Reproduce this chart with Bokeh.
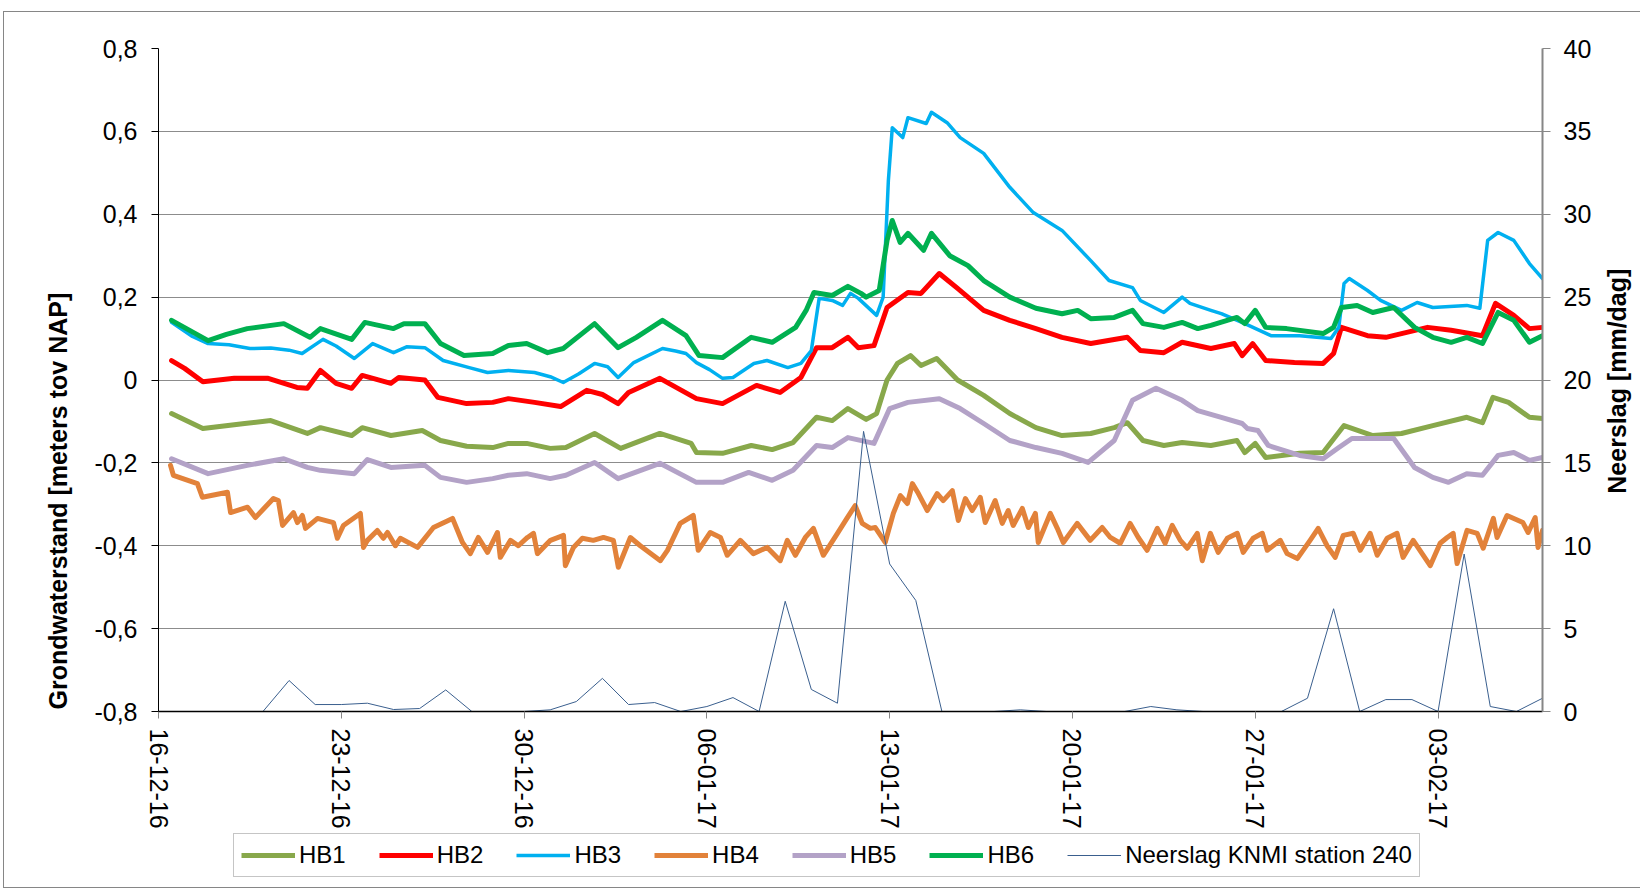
import math
from bokeh.plotting import figure
from bokeh.layouts import column
from bokeh.models import (Range1d, LinearAxis, FixedTicker, Legend, LegendItem, Grid, Title)
from bokeh.embed import file_html
from bokeh.resources import INLINE

FONT = "Liberation Sans"

# ---------------- data ----------------
# x = days since 16-12-2016 00:00
date_tick_days = [0, 7, 14, 21, 28, 35, 42, 49]
date_tick_labels = ["16-12-16", "23-12-16", "30-12-16", "06-01-17",
                    "13-01-17", "20-01-17", "27-01-17", "03-02-17"]
left_ticks = [-0.8, -0.6, -0.4, -0.2, 0.0, 0.2, 0.4, 0.6, 0.8]
left_tick_labels = ["-0,8", "-0,6", "-0,4", "-0,2", "0", "0,2", "0,4", "0,6", "0,8"]
right_ticks = [0, 5, 10, 15, 20, 25, 30, 35, 40]

hb1_days = [0.5, 1.7, 3.3, 4.3, 5.7, 6.2, 7.4, 7.8, 8.9, 10.1, 10.8, 11.8, 12.8, 13.4,
            14.1, 15.0, 15.6, 16.7, 17.7, 19.2, 20.4, 20.6, 21.6, 22.7, 23.5, 24.3,
            25.2, 25.8, 26.4, 27.1, 27.5, 27.9, 28.3, 28.8, 29.2, 29.8, 30.6, 31.6,
            32.6, 33.6, 34.6, 35.7, 36.6, 37.1, 37.7, 38.5, 39.2, 40.3, 41.3, 41.6,
            42.0, 42.4, 43.7, 44.6, 45.4, 46.5, 47.6, 48.8, 50.1, 50.7, 51.1, 51.7,
            52.5, 53.0]
hb1_vals = [-0.081, -0.117, -0.105, -0.098, -0.129, -0.115, -0.134, -0.115, -0.134,
            -0.122, -0.146, -0.160, -0.163, -0.153, -0.153, -0.165, -0.163, -0.129,
            -0.165, -0.129, -0.153, -0.175, -0.177, -0.158, -0.168, -0.151, -0.090,
            -0.098, -0.069, -0.095, -0.081, 0.000, 0.040, 0.059, 0.035, 0.052, 0.000,
            -0.037, -0.081, -0.115, -0.134, -0.129, -0.115, -0.103, -0.146, -0.158,
            -0.151, -0.158, -0.146, -0.175, -0.153, -0.187, -0.177, -0.175, -0.110,
            -0.134, -0.129, -0.110, -0.090, -0.103, -0.042, -0.054, -0.090, -0.093]

hb2_days = [0.5, 1.0, 1.7, 2.9, 4.2, 5.3, 5.7, 6.2, 6.8, 7.4, 7.8, 8.9, 9.2, 10.2,
            10.7, 11.8, 12.8, 13.4, 14.4, 15.4, 16.4, 17.0, 17.6, 18.0, 19.2, 20.6,
            21.6, 22.9, 23.8, 24.6, 25.2, 25.8, 26.4, 26.8, 27.4, 27.9, 28.7, 29.2,
            29.9, 30.6, 31.6, 32.6, 33.6, 34.6, 35.7, 37.1, 37.6, 38.5, 39.2, 40.3,
            41.2, 41.5, 41.9, 42.4, 43.5, 44.6, 45.0, 45.3, 46.3, 47.0, 47.8, 48.6,
            49.5, 50.7, 51.2, 51.9, 52.5, 53.0]
hb2_vals = [0.047, 0.028, -0.004, 0.004, 0.004, -0.018, -0.020, 0.023, -0.008, -0.020,
            0.011, -0.008, 0.006, 0.000, -0.042, -0.057, -0.054, -0.045, -0.054,
            -0.064, -0.025, -0.035, -0.057, -0.030, 0.004, -0.045, -0.057, -0.013,
            -0.030, 0.006, 0.078, 0.078, 0.103, 0.078, 0.083, 0.175, 0.211, 0.209,
            0.257, 0.221, 0.168, 0.144, 0.124, 0.103, 0.088, 0.103, 0.071, 0.066,
            0.091, 0.076, 0.088, 0.059, 0.088, 0.047, 0.042, 0.040, 0.064, 0.127,
            0.107, 0.103, 0.115, 0.127, 0.120, 0.107, 0.185, 0.156, 0.124, 0.127]

hb3_days = [0.5, 1.3, 1.9, 2.7, 3.5, 4.3, 5.0, 5.5, 6.3, 6.8, 7.5, 8.2, 9.0, 9.5, 10.2,
            10.9, 11.9, 12.6, 13.4, 14.4, 15.0, 15.5, 16.1, 16.7, 17.2, 17.6, 18.2,
            19.3, 19.8, 20.2, 20.6, 21.1, 21.6, 22.0, 22.8, 23.3, 24.1, 24.6, 25.0,
            25.3, 25.8, 26.2, 26.5, 26.8, 27.5, 27.75, 27.95, 28.1, 28.5, 28.7, 29.4,
            29.6, 30.2, 30.7, 31.6, 32.6, 33.5, 34.6, 35.7, 36.4, 37.3, 37.6, 38.5,
            39.2, 39.5, 40.3, 40.7, 41.6, 42.6, 43.7, 44.9, 45.2, 45.4, 45.6, 46.3,
            46.8, 47.6, 48.2, 48.8, 50.1, 50.6, 50.9, 51.3, 51.9, 52.5, 53.0]
hb3_vals = [0.139, 0.105, 0.088, 0.085, 0.076, 0.077, 0.072, 0.064, 0.098, 0.082,
            0.052, 0.088, 0.066, 0.080, 0.078, 0.047, 0.030, 0.018, 0.023, 0.018,
            0.008, -0.006, 0.015, 0.040, 0.032, 0.006, 0.042, 0.076, 0.070, 0.064,
            0.042, 0.025, 0.004, 0.006, 0.040, 0.047, 0.030, 0.040, 0.071, 0.197,
            0.192, 0.180, 0.209, 0.197, 0.156, 0.200, 0.481, 0.609, 0.585, 0.633,
            0.619, 0.646, 0.621, 0.585, 0.547, 0.465, 0.404, 0.361, 0.288, 0.240,
            0.223, 0.192, 0.163, 0.200, 0.185, 0.168, 0.160, 0.136, 0.107, 0.107,
            0.100, 0.127, 0.233, 0.245, 0.216, 0.192, 0.168, 0.187, 0.175, 0.180,
            0.173, 0.337, 0.356, 0.337, 0.281, 0.245]

hb4_days = [0.46, 0.57, 1.49, 1.68, 2.64, 2.76, 3.41, 3.71, 4.40, 4.59, 4.75, 5.17,
            5.32, 5.51, 5.63, 6.09, 6.70, 6.85, 7.08, 7.35, 7.73, 7.85, 8.00, 8.38,
            8.61, 8.77, 9.07, 9.26, 9.92, 10.53, 11.26, 11.64, 11.94, 12.25, 12.60,
            12.98, 13.09, 13.48, 13.78, 14.13, 14.36, 14.51, 15.01, 15.51, 15.58,
            15.89, 16.23, 16.65, 17.04, 17.42, 17.61, 18.07, 18.45, 19.22, 19.49,
            19.98, 20.48, 20.67, 21.13, 21.52, 21.78, 22.28, 22.78, 23.31, 23.81,
            24.08, 24.39, 24.77, 25.08, 25.46, 26.00, 26.38, 26.68, 26.95, 27.26,
            27.45, 27.83, 28.14, 28.41, 28.68, 28.87, 29.10, 29.44, 29.82, 30.05,
            30.40, 30.63, 30.90, 31.16, 31.47, 31.66, 32.04, 32.31, 32.54, 32.73,
            33.08, 33.31, 33.58, 33.69, 34.15, 34.42, 34.65, 35.18, 35.68, 36.14,
            36.45, 36.83, 37.21, 37.52, 37.86, 38.25, 38.55, 38.82, 39.13, 39.40,
            39.78, 39.97, 40.28, 40.58, 40.93, 41.31, 41.54, 41.92, 42.27, 42.46,
            42.96, 43.22, 43.61, 44.10, 44.41, 44.75, 45.06, 45.37, 45.75, 46.02,
            46.40, 46.67, 47.05, 47.43, 47.66, 48.05, 48.39, 48.70, 49.08, 49.35,
            49.58, 49.73, 50.11, 50.50, 50.73, 51.12, 51.26, 51.64, 52.25, 52.45,
            52.72, 52.83, 53.00]
hb4_vals = [-0.206, -0.230, -0.250, -0.283, -0.271, -0.320, -0.307, -0.332, -0.286,
            -0.291, -0.351, -0.320, -0.344, -0.327, -0.358, -0.334, -0.344, -0.382,
            -0.351, -0.339, -0.322, -0.404, -0.387, -0.363, -0.382, -0.368, -0.400,
            -0.382, -0.404, -0.356, -0.334, -0.392, -0.419, -0.380, -0.416, -0.368,
            -0.428, -0.387, -0.400, -0.380, -0.370, -0.419, -0.387, -0.375, -0.448,
            -0.404, -0.382, -0.387, -0.380, -0.387, -0.452, -0.380, -0.400, -0.436,
            -0.411, -0.346, -0.327, -0.411, -0.368, -0.380, -0.423, -0.387, -0.419,
            -0.404, -0.436, -0.387, -0.423, -0.380, -0.358, -0.423, -0.370, -0.332,
            -0.303, -0.346, -0.358, -0.356, -0.392, -0.322, -0.279, -0.298, -0.250,
            -0.274, -0.315, -0.274, -0.291, -0.267, -0.339, -0.286, -0.315, -0.283,
            -0.344, -0.291, -0.346, -0.315, -0.351, -0.310, -0.356, -0.322, -0.392,
            -0.322, -0.358, -0.392, -0.346, -0.387, -0.356, -0.380, -0.394, -0.346,
            -0.380, -0.411, -0.358, -0.394, -0.351, -0.387, -0.406, -0.370, -0.436,
            -0.370, -0.416, -0.382, -0.370, -0.416, -0.382, -0.370, -0.411, -0.387,
            -0.419, -0.431, -0.387, -0.358, -0.400, -0.428, -0.375, -0.370, -0.411,
            -0.370, -0.423, -0.382, -0.370, -0.428, -0.387, -0.419, -0.448, -0.394,
            -0.380, -0.370, -0.443, -0.363, -0.370, -0.406, -0.334, -0.380, -0.327,
            -0.344, -0.368, -0.332, -0.404, -0.363]

hb5_days = [0.5, 1.9, 3.4, 4.8, 5.7, 6.2, 7.5, 8.0, 8.9, 10.2, 10.8, 11.8, 12.8, 13.4,
            14.1, 15.0, 15.6, 16.7, 17.6, 19.2, 20.6, 21.6, 22.6, 23.5, 24.3, 25.2,
            25.8, 26.4, 27.4, 28.0, 28.7, 29.9, 30.7, 31.6, 32.6, 33.6, 34.6, 35.6,
            36.6, 37.3, 38.2, 39.2, 39.8, 40.7, 41.5, 41.7, 42.1, 42.5, 43.7, 44.6,
            45.2, 45.7, 47.3, 48.1, 48.8, 49.4, 50.1, 50.7, 51.3, 51.9, 52.5, 53.0]
hb5_vals = [-0.190, -0.226, -0.206, -0.190, -0.211, -0.218, -0.226, -0.192, -0.211,
            -0.206, -0.235, -0.247, -0.238, -0.230, -0.226, -0.238, -0.230, -0.199,
            -0.238, -0.201, -0.247, -0.247, -0.223, -0.242, -0.218, -0.158, -0.163,
            -0.139, -0.153, -0.069, -0.054, -0.045, -0.069, -0.105, -0.146, -0.163,
            -0.177, -0.199, -0.146, -0.049, -0.020, -0.049, -0.074, -0.090, -0.105,
            -0.117, -0.122, -0.158, -0.182, -0.190, -0.163, -0.141, -0.141, -0.211,
            -0.235, -0.247, -0.226, -0.230, -0.182, -0.175, -0.194, -0.187]

hb6_days = [0.5, 1.9, 2.6, 3.4, 4.8, 5.8, 6.2, 7.4, 7.9, 9.0, 9.4, 10.2, 10.8, 11.7,
            12.8, 13.4, 14.1, 14.9, 15.5, 16.7, 17.6, 18.3, 19.3, 20.2, 20.7, 21.6,
            22.7, 23.5, 24.4, 24.8, 25.1, 25.8, 26.4, 26.9, 27.1, 27.6, 27.9, 28.1,
            28.4, 28.7, 29.3, 29.6, 30.3, 31.0, 31.6, 32.6, 33.6, 34.6, 35.2, 35.7,
            36.6, 37.3, 37.7, 38.5, 39.2, 39.8, 40.3, 41.3, 41.6, 42.0, 42.4, 43.2,
            44.6, 45.0, 45.3, 45.9, 46.5, 47.3, 48.1, 48.8, 49.5, 50.1, 50.7, 51.3,
            51.9, 52.5, 53.0]
hb6_vals = [0.144, 0.095, 0.110, 0.124, 0.136, 0.103, 0.124, 0.098, 0.139, 0.124,
            0.136, 0.136, 0.088, 0.059, 0.064, 0.083, 0.088, 0.066, 0.076, 0.136,
            0.078, 0.103, 0.144, 0.107, 0.059, 0.054, 0.103, 0.091, 0.127, 0.168,
            0.211, 0.204, 0.226, 0.209, 0.200, 0.216, 0.337, 0.385, 0.332, 0.354,
            0.313, 0.354, 0.300, 0.276, 0.240, 0.200, 0.173, 0.160, 0.168, 0.148,
            0.151, 0.168, 0.136, 0.127, 0.139, 0.124, 0.132, 0.151, 0.136, 0.168,
            0.127, 0.124, 0.112, 0.127, 0.175, 0.180, 0.163, 0.175, 0.127, 0.103,
            0.091, 0.103, 0.088, 0.163, 0.144, 0.091, 0.107]

# daily precipitation, mm/dag
rain_days = list(range(0, 54))
rain_vals = [0, 0, 0, 0, 0, 1.87, 0.42, 0.42, 0.5, 0.12, 0.18, 1.3, 0, 0, 0, 0.1,
             0.6, 2.0, 0.42, 0.54, 0, 0.3, 0.84, 0, 6.65, 1.33, 0.5, 16.9, 8.9, 6.7,
             0, 0, 0, 0.1, 0, 0, 0, 0, 0.3, 0.1, 0, 0, 0, 0, 0.8, 6.2, 0, 0.72, 0.72,
             0, 9.5, 0.3, 0, 0.8]

series_names = ["HB1", "HB2", "HB3", "HB4", "HB5", "HB6"]
rain_name = "Neerslag KNMI station 240"
left_title = "Grondwaterstand [meters tov NAP]"
right_title = "Neerslag [mm/dag]"

colors = ["#88A84B", "#FF0000", "#00B0F0", "#E2823A", "#B3A2C7", "#00B050"]
widths = [5, 5, 3.5, 5, 5, 5]
rain_color = "#3A5F8E"
data = [(hb1_days, hb1_vals), (hb2_days, hb2_vals), (hb3_days, hb3_vals),
        (hb4_days, hb4_vals), (hb5_days, hb5_vals), (hb6_days, hb6_vals)]

# ---------------- main figure ----------------
p = figure(frame_width=1384, frame_height=663,
           min_border_left=154, min_border_right=94,
           min_border_top=36, min_border_bottom=120,
           x_range=Range1d(0, 53), y_range=Range1d(-0.8, 0.8),
           x_axis_type=None, y_axis_type=None,
           output_backend="svg", toolbar_location=None)
p.extra_y_ranges = {"rain": Range1d(0, 40)}
p.outline_line_color = None
p.background_fill_color = "white"
p.border_fill_color = "white"

p.add_layout(Grid(dimension=1, ticker=FixedTicker(ticks=left_ticks),
                  grid_line_color="#8c8c8c", grid_line_width=1))

for (dx, dy), c, w in zip(data, colors, widths):
    p.line(x=dx, y=dy, line_color=c, line_width=w,
           line_join="round", line_cap="round")
p.line(x=rain_days, y=rain_vals, y_range_name="rain",
       line_color=rain_color, line_width=1)

# axes
yaxis = LinearAxis(ticker=FixedTicker(ticks=left_ticks),
                   major_label_overrides=dict(zip(left_ticks, left_tick_labels)))
p.add_layout(yaxis, "left")
raxis = LinearAxis(y_range_name="rain", ticker=FixedTicker(ticks=right_ticks))
p.add_layout(raxis, "right")
xaxis = LinearAxis(ticker=FixedTicker(ticks=date_tick_days),
                   major_label_overrides=dict(zip(date_tick_days, date_tick_labels)),
                   major_label_orientation=-math.pi / 2)
p.add_layout(xaxis, "below")

for ax in (yaxis, raxis, xaxis):
    ax.major_label_text_font = FONT
    ax.major_label_text_font_size = "25px"
    ax.major_label_text_color = "black"
    ax.minor_tick_line_color = None
    ax.major_tick_in = 0
    ax.major_tick_out = 7
    ax.axis_line_width = 1
yaxis.axis_line_color = "black"
yaxis.major_tick_line_color = "black"
yaxis.major_label_standoff = 14
raxis.axis_line_color = "#868686"
raxis.axis_line_width = 2
raxis.major_tick_line_color = "#868686"
raxis.major_tick_out = 8
raxis.major_label_standoff = 13
xaxis.axis_line_color = "black"
xaxis.axis_line_width = 1.5
xaxis.major_tick_line_color = "#868686"
xaxis.major_label_standoff = 10

# left axis title (reads bottom-to-top, starting near the bottom of the axis)
p.add_layout(Title(text=left_title, align="left", offset=2, standoff=40,
                   text_font=FONT, text_font_size="25px", text_font_style="bold",
                   text_color="black"), "left")

# right axis title: carried by a bare axis so it can read bottom-to-top
RIGHT_TITLE_AT = 13.14
tax = LinearAxis(y_range_name="rain", ticker=FixedTicker(ticks=[RIGHT_TITLE_AT]),
                 major_label_overrides={RIGHT_TITLE_AT: right_title},
                 major_label_orientation=math.pi / 2,
                 axis_line_color=None, major_tick_line_color=None,
                 minor_tick_line_color=None, major_tick_out=0, major_tick_in=0,
                 major_label_standoff=23, major_label_text_font=FONT,
                 major_label_text_font_size="25px",
                 major_label_text_font_style="bold",
                 major_label_text_color="black")
p.add_layout(tax, "right")

# ---------------- legend strip ----------------
# (its frame is aligned with the main frame by the column layout; the series
#  are drawn out of view here, only their legend entries show)
lf = figure(width=1632, height=56, min_border=0,
            x_range=Range1d(0, 53), y_range=Range1d(100, 101),
            x_axis_type=None, y_axis_type=None,
            output_backend="svg", toolbar_location=None)
lf.outline_line_color = None
lf.background_fill_color = "white"
lf.border_fill_color = "white"
lrs = []
for (dx, dy), c, w in zip(data, colors, widths):
    lrs.append(lf.line(x=dx, y=dy, line_color=c, line_width=w))
lrr = lf.line(x=rain_days, y=rain_vals, line_color=rain_color, line_width=1)
items = [LegendItem(label=n, renderers=[r]) for n, r in zip(series_names, lrs)]
items.append(LegendItem(label=rain_name, renderers=[lrr]))
legend = Legend(items=items, orientation="horizontal", location=(75, 10),
                label_text_font=FONT, label_text_font_size="24px",
                label_text_color="black", glyph_width=54, glyph_height=24,
                label_height=24, label_standoff=4, spacing=33, padding=7,
                margin=0, border_line_color="#8c8c8c", border_line_width=1,
                background_fill_color="white", background_fill_alpha=1.0)
lf.add_layout(legend)

layout = column(p, lf, spacing=0)
layout.styles = {"border": "1px solid #868686", "margin-left": "3px",
                 "margin-top": "11px"}

open("out.html", "w").write(file_html(layout, INLINE))
